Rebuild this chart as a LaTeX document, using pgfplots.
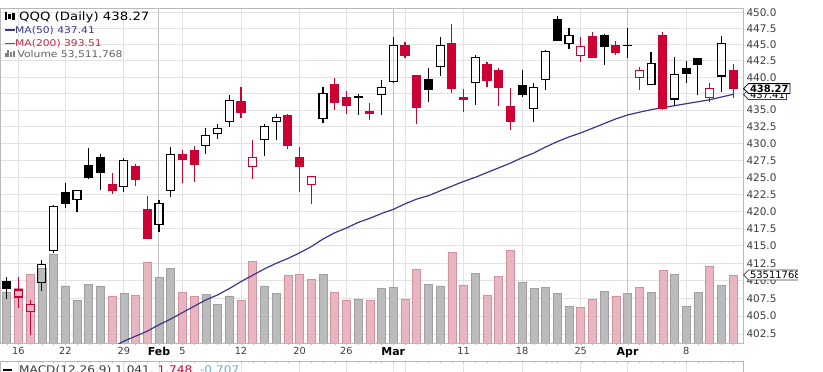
\documentclass[border=0pt]{standalone}
\usepackage{fontspec}
\setmainfont{DejaVu Sans}
\newfontfamily\legfont[FakeStretch=1.16]{DejaVu Sans}
\usepackage{pgfplots}
\pgfplotsset{compat=1.18}
\usepackage{pgfplotstable}
\usetikzlibrary{shapes.symbols}

\definecolor{cred}{RGB}{204,0,51}
\definecolor{pinkv}{RGB}{232,182,192}
\definecolor{pinkb}{RGB}{212,145,158}
\definecolor{grayv}{RGB}{187,187,187}
\definecolor{grayb}{RGB}{160,160,160}
\definecolor{gridc}{RGB}{226,226,226}
\definecolor{monthc}{RGB}{195,195,195}
\definecolor{ma}{RGB}{55,55,140}
\definecolor{axc}{RGB}{185,185,185}
\definecolor{labc}{RGB}{60,60,60}
\definecolor{macdblue}{RGB}{110,170,210}
\definecolor{ma200}{RGB}{200,40,70}

\pgfplotstableread{
i o h l c s
0 409.87 410.6 407.4 408.93 bf
1 407.7 410.6 406.2 408.7 rh
2 405.6 407.3 402.4 406.7 rh
3 409.8 413.0 408.5 412.35 bh
4 414.4 420.9 413.95 420.7 bh
5 422.7 424.1 420.45 421.1 bf
6 421.8 423.1 419.95 423.0 bh
7 426.8 429.3 424.7 425.0 bf
8 428.0 428.5 423.2 425.7 bf
9 423.96 425.6 422.5 423.0 rf
10 423.7 427.8 422.9 427.55 bh
11 426.55 426.95 423.75 424.7 rf
12 420.3 422.25 416.1 416.1 rf
13 418.15 421.65 417.05 421.17 bh
14 423.1 429.5 422.1 428.4 bh
15 428.4 429.0 424.2 427.7 rf
16 429.0 429.6 424.35 426.95 rf
17 429.67 432.3 428.4 431.27 bh
18 431.53 433.0 430.67 432.28 bh
19 433.26 437.3 432.5 436.44 bh
20 436.3 438.55 433.9 434.7 rf
21 426.55 430.5 424.7 427.94 rh
22 430.63 433.0 428.15 432.62 bh
23 433.26 434.5 430.5 433.86 bh
24 434.25 434.5 429.15 429.78 rf
25 427.94 429.5 422.87 426.65 rf
26 424.0 425.2 421.1 425.07 rh
27 433.77 438.47 433.1 437.56 bh
28 438.97 439.94 435.03 436.2 rf
29 436.95 437.95 434.5 435.8 rf
30 437.05 437.4 434.35 437.0 bf
31 434.8 436.03 433.6 434.55 rf
32 437.45 439.6 434.27 438.47 bh
33 439.3 446.13 439.06 444.94 bh
34 444.94 445.46 442.9 443.38 rf
35 440.31 440.4 432.9 435.44 rf
36 439.74 441.4 436.2 438.22 bf
37 441.68 446.13 440.2 444.94 bh
38 445.2 448.22 437.65 438.32 rf
39 436.95 438.17 434.78 436.7 rf
40 439.15 443.41 435.8 443.05 bh
41 442.0 442.37 438.47 439.47 rf
42 441.0 441.46 435.6 438.4 rf
43 435.53 438.32 432.03 433.26 rf
44 438.7 441.1 437.05 437.45 bf
45 435.3 439.07 433.26 438.47 bh
46 439.67 444.16 438.1 443.9 bh
47 448.87 449.53 445.6 445.73 bf
48 445.2 447.54 444.42 446.5 bh
49 443.38 446.22 442.37 444.68 rh
50 446.22 447.0 443.1 443.1 rf
51 446.5 446.75 441.9 444.68 bf
52 444.8 445.6 443.38 443.74 rf
53 444.88 447.54 442.9 444.95 bh
54 440.0 441.6 438.1 441.1 rh
55 438.97 443.9 438.8 442.1 bh
56 446.35 447.0 435.03 435.3 rf
57 436.7 443.05 435.6 440.5 bh
58 441.4 442.53 439.15 440.6 bf
59 442.9 443.0 437.3 442.0 bf
60 436.95 439.15 436.3 438.32 rh
61 440.2 446.35 437.8 445.2 bh
62 441.0 442.1 436.8 438.27 rf
}\candles

% volume (millions), up days (gray)
\pgfplotstableread{
i v
0 39.6
3 59.0
4 69.8
5 44.9
6 33.3
7 46.4
8 44.9
10 39.1
13 51.4
14 59.0
17 38.0
18 30.5
19 37.0
22 44.9
23 38.8
27 54.1
30 34.4
32 43.0
33 43.8
36 46.4
37 44.9
40 54.9
44 47.5
45 43.0
46 43.8
47 39.1
48 28.6
51 40.9
53 39.1
55 39.9
57 54.1
58 28.6
59 39.9
61 45.6
}\volup

% volume (millions), down days (pink)
\pgfplotstableread{
i v
1 43.3
2 54.1
9 37.0
11 37.2
12 63.5
15 39.9
16 36.4
20 33.3
21 64.5
24 53.0
25 54.1
26 50.4
28 39.9
29 33.3
31 33.3
34 34.6
35 58.0
38 71.4
39 45.6
41 37.8
42 52.2
43 73.2
49 27.8
50 34.6
52 37.0
54 43.8
56 56.9
60 60.6
62 53.51
}\voldn

% 50-day moving average
\pgfplotstableread{
i m
9 400.6
10 401.5
11 402.2
12 402.9
13 403.8
14 404.6
15 405.5
16 406.4
17 407.3
18 408.0
19 408.9
20 409.9
21 410.8
22 411.7
23 412.5
24 413.2
25 414.0
26 414.9
27 416.0
28 416.9
29 417.6
30 418.4
31 419.0
32 419.7
33 420.3
34 421.1
35 421.8
36 422.3
37 423.0
38 423.7
39 424.4
40 425.0
41 425.7
42 426.4
43 427.1
44 427.9
45 428.6
46 429.5
47 430.3
48 431.0
49 431.6
50 432.3
51 433.0
52 433.7
53 434.3
54 434.7
55 435.1
56 435.4
57 435.7
58 436.0
59 436.3
60 436.6
61 437.0
62 437.41
}\maf

% price scale is logarithmic: limits and ticks are natural logs of the prices
\pgfplotsset{
  base/.style={scale only axis, width=743bp, height=335bp,
    xmin=-0.57, xmax=62.85, at={(0,29bp)}, anchor=south west},
  logprice/.style={ymin=5.994560, ymax=6.110803},
  wick bf/.style={draw=black, line width=1.1bp},
  wick bh/.style={draw=black, line width=1.1bp},
  wick rf/.style={draw=cred, line width=1.1bp},
  wick rh/.style={draw=cred, line width=1.1bp},
  body bf/.style={draw=black, fill=black, line width=1.1bp},
  body bh/.style={draw=black, line width=1.1bp},
  body rf/.style={draw=cred, fill=cred, line width=1.1bp},
  body rh/.style={draw=cred, line width=1.1bp},
}

\begin{document}
\begin{tikzpicture}
\useasboundingbox (0,0) rectangle (823bp,372bp);

% ---- grid / labels axis
\begin{axis}[base, logprice,
  axis line style={axc},
  ytick={5.997696,6.003887,6.010041,6.016157,6.022237,6.028279,6.034285,6.040255,6.046190,6.052089,6.057954,6.063785,6.069583,6.075346,6.081077,6.086775,6.092441,6.098074,6.103677,6.109248},
  yticklabels={402.5,405.0,407.5,410.0,412.5,415.0,417.5,420.0,422.5,425.0,427.5,430.0,432.5,435.0,437.5,440.0,442.5,445.0,447.5,450.0},
  yticklabel pos=right, ytick pos=right,
  yticklabel style={font=\fontsize{10.5}{12}\selectfont, text=labc},
  ymajorgrids, xmajorgrids,
  major grid style={draw=gridc, line width=0.9bp},
  xtick={1,5,10,15,20,25,29,34,39,44,49,58},
  xticklabels={16,22,29,5,12,20,26,,11,18,25,8},
  xticklabel style={font=\fontsize{9.8}{11}\selectfont, text=labc, yshift=-1bp},
  extra x ticks={13,33,53},
  extra x tick labels={Feb,Mar,Apr},
  extra x tick style={major grid style={draw=monthc, line width=1bp},
     xticklabel style={font=\bfseries\fontsize{11}{12}\selectfont, text=black}},
  major tick length=0pt,
  minor xtick={0,1,...,62}, minor tick length=2.5bp,
  xtick pos=bottom, tick align=outside,
  tick style={draw=axc},
]
\end{axis}

% ---- volume axis
\begin{axis}[base, hide axis, ymin=0, ymax=263.6]
\addplot[ybar, bar width=8bp, bar shift=0pt, fill=grayv, draw=grayb, line width=0.5bp] table[x=i, y=v] {\volup};
\addplot[ybar, bar width=8bp, bar shift=0pt, fill=pinkv, draw=pinkb, line width=0.5bp] table[x=i, y=v] {\voldn};
\coordinate (vtag) at (axis cs:62.85,53.51);
\end{axis}

% ---- price axis (prices mapped to log scale by the y filter)
\begin{axis}[base, hide axis, logprice, y filter/.expression={ln(y)}]
\addplot[ma, line width=1.2bp] table[x=i, y=m] {\maf};
\pgfplotsforeachungrouped \k in {0,...,62}{%
  \pgfplotstablegetelem{\k}{o}\of\candles\let\cO\pgfplotsretval
  \pgfplotstablegetelem{\k}{h}\of\candles\let\cH\pgfplotsretval
  \pgfplotstablegetelem{\k}{l}\of\candles\let\cL\pgfplotsretval
  \pgfplotstablegetelem{\k}{c}\of\candles\let\cC\pgfplotsretval
  \pgfplotstablegetelem{\k}{s}\of\candles\let\cS\pgfplotsretval
  \pgfmathsetmacro\cT{max(\cO,\cC)}%
  \pgfmathsetmacro\cB{min(\cO,\cC)}%
  \pgfmathsetmacro\xL{\k-0.34}%
  \pgfmathsetmacro\xR{\k+0.34}%
  \edef\doit{%
    \noexpand\addplot[wick \cS] coordinates {(\k,\cH) (\k,\cT)};%
    \noexpand\addplot[wick \cS] coordinates {(\k,\cB) (\k,\cL)};%
    \noexpand\addplot[body \cS] coordinates {(\xL,\cB) (\xR,\cB) (\xR,\cT) (\xL,\cT)} --cycle;%
  }\doit
}
\coordinate (ptag) at (axis cs:62.85,6.082835);
\coordinate (mtag) at (axis cs:62.85,6.081283);
\end{axis}

% ---- MACD panel (top edge only visible)
\begin{axis}[scale only axis, width=743bp, height=41bp, at={(0,-30bp)}, anchor=south west,
  xmin=-0.57, xmax=62.85, ymin=0, ymax=1,
  axis line style={axc}, ytick=\empty,
  xtick={1,5,10,13,15,20,25,29,33,34,39,44,49,53,58}, xticklabels={},
  xmajorgrids, major grid style={draw=gridc, line width=0.9bp},
  major tick length=0pt,
  minor xtick={0,1,...,62}, minor tick length=2bp, xtick pos=top, tick align=inside,
  tick style={draw=axc}]
\end{axis}

% ---- tags on the right
\node[signal, signal to=west, draw=ma, fill=white, line width=0.8bp, inner xsep=1.5bp, inner ysep=1.2bp,
  anchor=west, font=\fontsize{10}{11}\selectfont] at ([yshift=-1.5bp]mtag) {437.41};
\node[signal, signal to=west, draw=black, fill=white, line width=0.8bp, inner xsep=1.5bp, inner ysep=1.2bp,
  anchor=west, font=\bfseries\fontsize{10}{11}\selectfont] at (ptag) {438.27};
\node[signal, signal to=west, draw=labc, fill=white, line width=0.8bp, inner xsep=1.5bp, inner ysep=1.2bp,
  anchor=west, font=\fontsize{10}{11}\selectfont] at (vtag) {53511768};
\fill[white] (798bp,0) rectangle (823bp,372bp);

% ---- legend text
\node[anchor=base west, inner sep=0pt, font=\legfont\fontsize{11.5}{12}\selectfont, text=black] at (4.5bp,351.8bp)
  {\rule{2.5bp}{8bp}\hspace{1.2bp}\rule[1.5bp]{2.5bp}{5bp}\hspace{1.2bp}\rule[0.5bp]{2.5bp}{7bp}\hspace{4.5bp}QQQ (Daily) 438.27};
\node[anchor=base west, inner sep=0pt, font=\legfont\fontsize{9.3}{11}\selectfont, text=ma] at (5bp,338.7bp)
  {\rule[2.6bp]{10bp}{1.6bp}MA(50) 437.41};
\node[anchor=base west, inner sep=0pt, font=\legfont\fontsize{9.3}{11}\selectfont, text=ma200] at (5bp,325.2bp)
  {\rule[2.6bp]{10bp}{1.6bp}MA(200) 393.51};
\node[anchor=base west, inner sep=0pt, font=\legfont\fontsize{9.3}{11}\selectfont, text=labc!80] at (4.5bp,314.7bp)
  {{\color{gray}\rule{2bp}{4bp}\hspace{0.8bp}\rule{2bp}{7bp}\hspace{0.8bp}\rule{2bp}{5bp}\hspace{0.8bp}\rule{2bp}{6bp}}\hspace{2.5bp}Volume 53,511,768};
\node[anchor=base west, inner sep=0pt, font=\legfont\fontsize{10.5}{12}\selectfont, text=labc] at (3bp,-1.5bp)
  {{\color{black}\rule[3bp]{9bp}{2bp}}\hspace{7bp}MACD(12,26,9) 1.041\textcolor{cred}{, 1.748}\textcolor{macdblue}{, -0.707}};
\end{tikzpicture}
\end{document}
